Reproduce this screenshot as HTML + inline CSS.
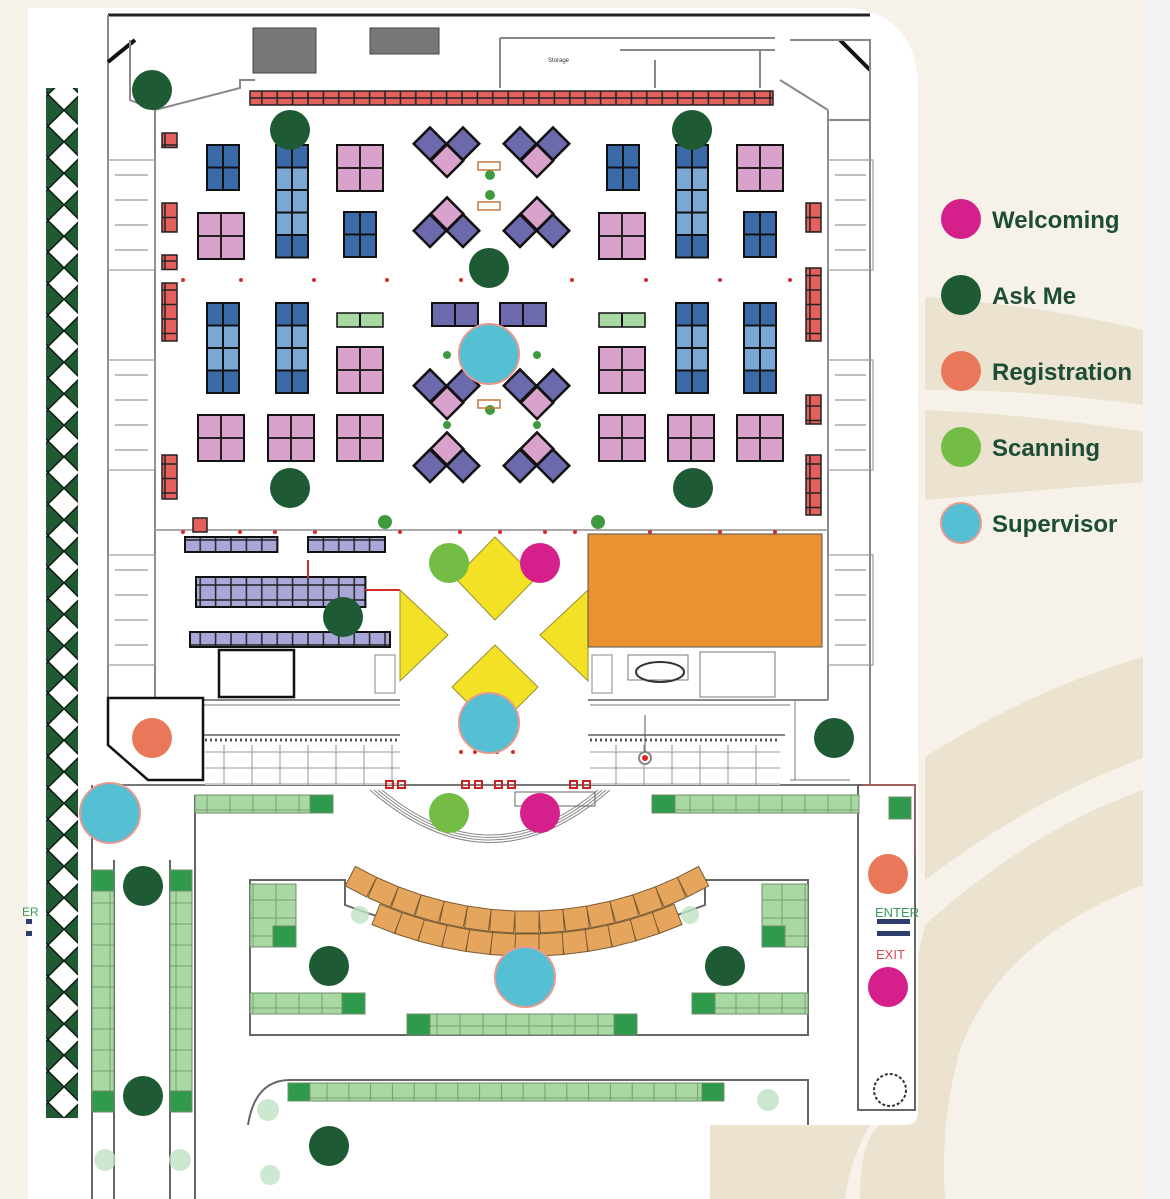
<!DOCTYPE html>
<html><head><meta charset="utf-8"><style>
html,body{margin:0;padding:0;background:#f6f2ea;}
svg{display:block}
</style></head><body>
<svg width="1170" height="1199" viewBox="0 0 1170 1199" xmlns="http://www.w3.org/2000/svg" font-family="Liberation Sans, sans-serif">
<defs>
<pattern id="dia" width="32" height="31.5" patternUnits="userSpaceOnUse"><polygon points="16,0 32,15.75 16,31.5 0,15.75" fill="#1f5a32" stroke="#0b1a10" stroke-width="1.5"/></pattern>
<pattern id="pb" width="16" height="22.5" patternUnits="userSpaceOnUse"><rect x="0" y="0" width="16" height="22.5" fill="#3b6aa8" stroke="#111" stroke-width="2"/></pattern>
<pattern id="plb" width="16" height="22.5" patternUnits="userSpaceOnUse"><rect x="0" y="0" width="16" height="22.5" fill="#7aa7d4" stroke="#111" stroke-width="2"/></pattern>
<pattern id="pp" width="23" height="23" patternUnits="userSpaceOnUse"><rect x="0" y="0" width="23" height="23" fill="#d8a2cc" stroke="#222" stroke-width="2"/></pattern>
<pattern id="pr" width="15.4" height="14" patternUnits="userSpaceOnUse"><rect x="0" y="0" width="15.4" height="14" fill="#e3605c" stroke="#222" stroke-width="1.5"/></pattern>
<pattern id="prv" width="15" height="14.5" patternUnits="userSpaceOnUse"><rect x="0" y="0" width="15" height="14.5" fill="#e3605c" stroke="#222" stroke-width="1.5"/></pattern>
<pattern id="pu" width="15.4" height="15" patternUnits="userSpaceOnUse"><rect x="0" y="0" width="15.4" height="15" fill="#a9a6d8" stroke="#222" stroke-width="1.5"/></pattern>
<pattern id="pg" width="23" height="18" patternUnits="userSpaceOnUse"><rect x="0" y="0" width="23" height="18" fill="#a9d9a2" stroke="#7b9a78" stroke-width="1"/></pattern>
<pattern id="pgv" width="22" height="21" patternUnits="userSpaceOnUse"><rect x="0" y="0" width="22" height="21" fill="#a9d9a2" stroke="#7b9a78" stroke-width="1"/></pattern>
<pattern id="pgb" width="21.8" height="18" patternUnits="userSpaceOnUse"><rect x="0" y="0" width="21.8" height="18" fill="#a9d9a2" stroke="#7b9a78" stroke-width="1"/></pattern>
<pattern id="tile" width="28" height="16" patternUnits="userSpaceOnUse"><rect width="28" height="16" fill="#fff" stroke="#999" stroke-width="1"/></pattern>
</defs>

<rect width="1170" height="1199" fill="#f6f2ea"/>
<rect x="1143" y="0" width="27" height="1199" fill="#f3f3f2"/>
<path d="M925,297 Q1040,305 1143,330 L1143,405 Q1040,390 925,390 Z" fill="#ebe2cf"/>
<path d="M925,410 Q1040,415 1143,432 L1143,482 Q1040,490 925,500 Z" fill="#ebe2cf"/>
<path d="M925,757 Q1030,690 1143,657 L1143,758 Q1030,800 925,880 Z" fill="#ebe2cf"/>
<path d="M925,925 Q1030,830 1143,790 L1143,885 Q1000,940 960,1050 Q940,1120 945,1199 L860,1199 Q860,1140 880,1125 Z" fill="#ebe2cf"/>
<path d="M700,1125 L870,1125 Q850,1160 845,1199 L700,1199 Z" fill="#ebe2cf"/>

<path d="M28,8 L850,8 Q918,15 918,90 L918,1112 Q918,1125 905,1125 L710,1125 L710,1199 L28,1199 Z" fill="#ffffff"/>

<g font-weight="bold" font-size="24" fill="#1d4d35">
<circle cx="961" cy="219" r="20" fill="#d51f8a"/><text x="992" y="228">Welcoming</text>
<circle cx="961" cy="295" r="20" fill="#1e5a33"/><text x="992" y="304">Ask Me</text>
<circle cx="961" cy="371" r="20" fill="#e9785a"/><text x="992" y="380">Registration</text>
<circle cx="961" cy="447" r="20" fill="#74bd44"/><text x="992" y="456">Scanning</text>
<circle cx="961" cy="523" r="20" fill="#55bfd4" stroke="#e69a8e" stroke-width="2"/><text x="992" y="532">Supervisor</text>
</g>

<rect x="46" y="88" width="32" height="1040" fill="url(#dia)"/>
<rect x="46" y="1118" width="32" height="20" fill="#fff"/>

<g fill="none" stroke="#888" stroke-width="2">
<path d="M108,15 L870,15" stroke="#222" stroke-width="3"/>
<path d="M108,15 L108,700 M870,40 L870,785"/>
<path d="M108,62 L135,40 M870,70 L840,40" stroke="#111" stroke-width="4"/>
<path d="M130,40 L130,100 L155,110 L240,88 L240,80 L255,80"/>
<path d="M155,110 L155,700 M828,110 L828,700"/>
<path d="M780,80 L828,110 M790,40 L870,40 L870,120 L828,120"/>
<path d="M500,38 L775,38 M500,38 L500,88 M620,50 L775,50 M655,60 L655,88 M760,50 L760,88"/>
<path d="M155,530 L828,530" stroke="#aaa"/>
<path d="M155,700 L400,700 M588,700 L828,700"/>
<path d="M100,785 L870,785" stroke="#777"/>
<path d="M200,735 L400,735 M588,735 L785,735"/>
</g>
<rect x="253" y="28" width="63" height="45" fill="#777" stroke="#444"/>
<rect x="370" y="28" width="69" height="26" fill="#777" stroke="#444"/>
<text x="548" y="62" font-size="6" fill="#333">Storage</text>
<g fill="none" stroke="#999" stroke-width="1.2">
<rect x="108" y="160" width="47" height="110"/><rect x="108" y="360" width="47" height="110"/><rect x="108" y="555" width="47" height="110"/>
<rect x="828" y="160" width="45" height="110"/><rect x="828" y="360" width="45" height="110"/><rect x="828" y="555" width="45" height="110"/>
<path d="M115,175 L148,175 M115,200 L148,200 M115,225 L148,225 M115,250 L148,250 M115,375 L148,375 M115,400 L148,400 M115,425 L148,425 M115,450 L148,450 M115,570 L148,570 M115,595 L148,595 M115,620 L148,620 M115,645 L148,645"/>
<path d="M835,175 L866,175 M835,200 L866,200 M835,225 L866,225 M835,250 L866,250 M835,375 L866,375 M835,400 L866,400 M835,425 L866,425 M835,450 L866,450 M835,570 L866,570 M835,595 L866,595 M835,620 L866,620 M835,645 L866,645"/>
</g>

<rect x="250" y="91" width="523" height="14" fill="url(#pr)" stroke="#222" stroke-width="1.5"/>
<g stroke="#222" stroke-width="1.5">
<rect x="162" y="133" width="15" height="14.5" fill="url(#prv)"/>
<rect x="162" y="203" width="15" height="29" fill="url(#prv)"/>
<rect x="162" y="255" width="15" height="14.5" fill="url(#prv)"/>
<rect x="162" y="283" width="15" height="58" fill="url(#prv)"/>
<rect x="162" y="455" width="15" height="44" fill="url(#prv)"/>
<rect x="193" y="518" width="14" height="14" fill="#e3605c"/>
<rect x="806" y="203" width="15" height="29" fill="url(#prv)"/>
<rect x="806" y="268" width="15" height="73" fill="url(#prv)"/>
<rect x="806" y="395" width="15" height="29" fill="url(#prv)"/>
<rect x="806" y="455" width="15" height="60" fill="url(#prv)"/>
</g>

<g stroke="#111" stroke-width="2">
<g transform="translate(207,145)"><rect width="32" height="45" fill="url(#pb)"/></g>
<g transform="translate(276,145)"><rect width="32" height="112.5" fill="url(#pb)"/><rect y="22.5" width="32" height="67.5" fill="url(#plb)"/></g>
<g transform="translate(337,145)"><rect width="46" height="46" fill="url(#pp)"/></g>
<g transform="translate(198,213)"><rect width="46" height="46" fill="url(#pp)"/></g>
<g transform="translate(344,212)"><rect width="32" height="45" fill="url(#pb)"/></g>
<g transform="translate(607,145)"><rect width="32" height="45" fill="url(#pb)"/></g>
<g transform="translate(676,145)"><rect width="32" height="112.5" fill="url(#pb)"/><rect y="22.5" width="32" height="67.5" fill="url(#plb)"/></g>
<g transform="translate(737,145)"><rect width="46" height="46" fill="url(#pp)"/></g>
<g transform="translate(599,213)"><rect width="46" height="46" fill="url(#pp)"/></g>
<g transform="translate(744,212)"><rect width="32" height="45" fill="url(#pb)"/></g>

<g transform="translate(207,303)"><rect width="32" height="90" fill="url(#pb)"/><rect y="22.5" width="32" height="45" fill="url(#plb)"/></g>
<g transform="translate(276,303)"><rect width="32" height="90" fill="url(#pb)"/><rect y="22.5" width="32" height="45" fill="url(#plb)"/></g>
<g transform="translate(676,303)"><rect width="32" height="90" fill="url(#pb)"/><rect y="22.5" width="32" height="45" fill="url(#plb)"/></g>
<g transform="translate(744,303)"><rect width="32" height="90" fill="url(#pb)"/><rect y="22.5" width="32" height="45" fill="url(#plb)"/></g>
<rect x="337" y="313" width="46" height="14" fill="#a9d9a2" stroke-width="1.5"/><line x1="360" y1="313" x2="360" y2="327"/>
<rect x="599" y="313" width="46" height="14" fill="#a9d9a2" stroke-width="1.5"/><line x1="622" y1="313" x2="622" y2="327"/>
<g transform="translate(337,347)"><rect width="46" height="46" fill="url(#pp)"/></g>
<g transform="translate(599,347)"><rect width="46" height="46" fill="url(#pp)"/></g>
<rect x="432" y="303" width="46" height="23" fill="#6c69ad"/><line x1="455" y1="303" x2="455" y2="326"/>
<rect x="500" y="303" width="46" height="23" fill="#6c69ad"/><line x1="523" y1="303" x2="523" y2="326"/>
<g transform="translate(198,415)"><rect width="46" height="46" fill="url(#pp)"/></g>
<g transform="translate(268,415)"><rect width="46" height="46" fill="url(#pp)"/></g>
<g transform="translate(337,415)"><rect width="46" height="46" fill="url(#pp)"/></g>
<g transform="translate(599,415)"><rect width="46" height="46" fill="url(#pp)"/></g>
<g transform="translate(668,415)"><rect width="46" height="46" fill="url(#pp)"/></g>
<g transform="translate(737,415)"><rect width="46" height="46" fill="url(#pp)"/></g>
</g>

<g stroke="#111" stroke-width="2.5">
<g><rect x="419" y="132" width="23" height="23" transform="rotate(45 430 143)" fill="#6c69ad"/><rect x="452" y="132" width="23" height="23" transform="rotate(45 463 143)" fill="#6c69ad"/><rect x="436" y="149" width="23" height="23" transform="rotate(45 447 160)" fill="#d8a2cc"/></g>
<g transform="translate(90,0)"><rect x="419" y="132" width="23" height="23" transform="rotate(45 430 143)" fill="#6c69ad"/><rect x="452" y="132" width="23" height="23" transform="rotate(45 463 143)" fill="#6c69ad"/><rect x="436" y="149" width="23" height="23" transform="rotate(45 447 160)" fill="#d8a2cc"/></g>
<g transform="translate(0,242)"><rect x="419" y="132" width="23" height="23" transform="rotate(45 430 143)" fill="#6c69ad"/><rect x="452" y="132" width="23" height="23" transform="rotate(45 463 143)" fill="#6c69ad"/><rect x="436" y="149" width="23" height="23" transform="rotate(45 447 160)" fill="#d8a2cc"/></g>
<g transform="translate(90,242)"><rect x="419" y="132" width="23" height="23" transform="rotate(45 430 143)" fill="#6c69ad"/><rect x="452" y="132" width="23" height="23" transform="rotate(45 463 143)" fill="#6c69ad"/><rect x="436" y="149" width="23" height="23" transform="rotate(45 447 160)" fill="#d8a2cc"/></g>
<g><rect x="436" y="202" width="23" height="23" transform="rotate(45 447 213)" fill="#d8a2cc"/><rect x="419" y="219" width="23" height="23" transform="rotate(45 430 230)" fill="#6c69ad"/><rect x="452" y="219" width="23" height="23" transform="rotate(45 463 230)" fill="#6c69ad"/></g>
<g transform="translate(90,0)"><rect x="436" y="202" width="23" height="23" transform="rotate(45 447 213)" fill="#d8a2cc"/><rect x="419" y="219" width="23" height="23" transform="rotate(45 430 230)" fill="#6c69ad"/><rect x="452" y="219" width="23" height="23" transform="rotate(45 463 230)" fill="#6c69ad"/></g>
<g transform="translate(0,235)"><rect x="436" y="202" width="23" height="23" transform="rotate(45 447 213)" fill="#d8a2cc"/><rect x="419" y="219" width="23" height="23" transform="rotate(45 430 230)" fill="#6c69ad"/><rect x="452" y="219" width="23" height="23" transform="rotate(45 463 230)" fill="#6c69ad"/></g>
<g transform="translate(90,235)"><rect x="436" y="202" width="23" height="23" transform="rotate(45 447 213)" fill="#d8a2cc"/><rect x="419" y="219" width="23" height="23" transform="rotate(45 430 230)" fill="#6c69ad"/><rect x="452" y="219" width="23" height="23" transform="rotate(45 463 230)" fill="#6c69ad"/></g>
</g>
<g fill="#3f9a3f"><circle cx="490" cy="175" r="5"/><circle cx="490" cy="195" r="5"/><circle cx="490" cy="410" r="5"/><circle cx="447" cy="355" r="4"/><circle cx="537" cy="355" r="4"/><circle cx="447" cy="425" r="4"/><circle cx="537" cy="425" r="4"/><circle cx="385" cy="522" r="7"/><circle cx="598" cy="522" r="7"/></g>
<g fill="none" stroke="#c07a3a" stroke-width="1.5"><rect x="478" y="162" width="22" height="8"/><rect x="478" y="202" width="22" height="8"/><rect x="478" y="400" width="22" height="8"/></g>
<g fill="#d42a2a"><circle cx="183" cy="280" r="2"/><circle cx="241" cy="280" r="2"/><circle cx="314" cy="280" r="2"/><circle cx="387" cy="280" r="2"/><circle cx="461" cy="280" r="2"/><circle cx="572" cy="280" r="2"/><circle cx="646" cy="280" r="2"/><circle cx="720" cy="280" r="2"/><circle cx="790" cy="280" r="2"/>
<circle cx="183" cy="532" r="2"/><circle cx="240" cy="532" r="2"/><circle cx="275" cy="532" r="2"/><circle cx="315" cy="532" r="2"/><circle cx="400" cy="532" r="2"/><circle cx="460" cy="532" r="2"/><circle cx="500" cy="532" r="2"/><circle cx="545" cy="532" r="2"/><circle cx="575" cy="532" r="2"/><circle cx="650" cy="532" r="2"/><circle cx="720" cy="532" r="2"/><circle cx="775" cy="532" r="2"/>
<circle cx="461" cy="752" r="2"/><circle cx="475" cy="752" r="2"/><circle cx="497" cy="752" r="2"/><circle cx="513" cy="752" r="2"/></g>

<g stroke="#111" stroke-width="2">
<rect x="185" y="537" width="92.4" height="15" fill="url(#pu)"/>
<rect x="308" y="537" width="77" height="15" fill="url(#pu)"/>
<rect x="196" y="577" width="169.4" height="30" fill="url(#pu)"/>
<rect x="190" y="632" width="200" height="15" fill="url(#pu)"/>
</g>
<path d="M308,560 L308,578 M365,590 L400,590" stroke="#d42a2a" stroke-width="2"/>
<rect x="219" y="650" width="75" height="47" fill="#fff" stroke="#111" stroke-width="2.5"/>
<rect x="375" y="655" width="20" height="38" fill="none" stroke="#888"/>
<rect x="592" y="655" width="20" height="38" fill="none" stroke="#888"/>
<g fill="none" stroke="#777" stroke-width="1"><rect x="628" y="655" width="60" height="25"/><rect x="700" y="652" width="75" height="45"/><path d="M590,705 L790,705 M200,705 L400,705 M795,700 L795,780 M790,780 L850,780"/></g>
<ellipse cx="660" cy="672" rx="24" ry="10" fill="none" stroke="#333" stroke-width="2"/>

<g fill="#f2e125" stroke="#9a9030" stroke-width="1">
<polygon points="495,537 536,578 495,620 455,578"/>
<polygon points="400,590 448,635 400,681"/>
<polygon points="588,590 540,635 588,681"/>
<polygon points="495,645 538,687 495,730 452,687"/>
</g>
<rect x="588" y="534" width="234" height="113" fill="#e9922f" stroke="#555" stroke-width="1"/>

<polygon points="108,698 203,698 203,780 148,780 108,745" fill="#fff" stroke="#111" stroke-width="2.5"/>

<rect x="205" y="745" width="195" height="40" fill="url(#tile)"/>
<rect x="590" y="745" width="190" height="40" fill="url(#tile)"/>
<path d="M205,740 L400,740 M590,740 L780,740" stroke="#555" stroke-width="3" stroke-dasharray="2,3"/>
<g fill="none" stroke="#c22" stroke-width="2"><rect x="386" y="781" width="7" height="7"/><rect x="398" y="781" width="7" height="7"/><rect x="462" y="781" width="7" height="7"/><rect x="475" y="781" width="7" height="7"/><rect x="495" y="781" width="7" height="7"/><rect x="508" y="781" width="7" height="7"/><rect x="570" y="781" width="7" height="7"/><rect x="583" y="781" width="7" height="7"/></g>
<circle cx="645" cy="758" r="6" fill="#fff" stroke="#888" stroke-width="2"/><circle cx="645" cy="758" r="3" fill="#d22"/>
<line x1="645" y1="715" x2="645" y2="752" stroke="#555"/>
<g fill="none" stroke="#888" stroke-width="1"><path d="M370,790 Q490,895 610,790"/><path d="M374,790 Q490,890 606,790"/><path d="M378,790 Q490,885 602,790"/><path d="M382,790 Q490,880 598,790"/></g>
<rect x="515" y="792" width="80" height="14" fill="none" stroke="#666"/>

<g fill="none" stroke="#666" stroke-width="2">
<path d="M195,795 L195,1199 M92,785 L92,1199 M170,860 L170,1199 M114,860 L114,1199"/>
<path d="M250,880 L345,880 L345,905 Q527,975 705,905 L705,880 L808,880 L808,1035 L250,1035 Z"/>
<path d="M248,1125 Q255,1080 290,1080 L808,1080 L808,1125"/>
<path d="M858,785 L915,785 L915,1110 L858,1110 Z"/>
</g>
<path d="M862,785 L915,785 L915,855" fill="none" stroke="#e05555" stroke-width="1"/>

<g stroke="#6d8f6a" stroke-width="1">
<rect x="195" y="795" width="138" height="18" fill="url(#pg)"/><rect x="310" y="795" width="23" height="18" fill="#2f9a4c"/>
<rect x="652" y="795" width="207" height="18" fill="url(#pg)"/><rect x="652" y="795" width="23" height="18" fill="#2f9a4c"/>
<rect x="250" y="884" width="46" height="63" fill="url(#pg)"/><rect x="273" y="926" width="23" height="21" fill="#2f9a4c"/>
<rect x="762" y="884" width="46" height="63" fill="url(#pg)"/><rect x="762" y="926" width="23" height="21" fill="#2f9a4c"/>
<rect x="250" y="993" width="115" height="21" fill="url(#pg)"/><rect x="342" y="993" width="23" height="21" fill="#2f9a4c"/>
<rect x="692" y="993" width="116" height="21" fill="url(#pg)"/><rect x="692" y="993" width="23" height="21" fill="#2f9a4c"/>
<rect x="407" y="1014" width="230" height="21" fill="url(#pg)"/><rect x="407" y="1014" width="23" height="21" fill="#2f9a4c"/><rect x="614" y="1014" width="23" height="21" fill="#2f9a4c"/>
<rect x="92" y="870" width="22" height="242" fill="url(#pgv)"/><rect x="92" y="870" width="22" height="21" fill="#2f9a4c"/><rect x="92" y="1091" width="22" height="21" fill="#2f9a4c"/>
<rect x="170" y="870" width="22" height="242" fill="url(#pgv)"/><rect x="170" y="870" width="22" height="21" fill="#2f9a4c"/><rect x="170" y="1091" width="22" height="21" fill="#2f9a4c"/>
<rect x="288" y="1083" width="436" height="18" fill="url(#pgb)"/><rect x="288" y="1083" width="21.8" height="18" fill="#2f9a4c"/><rect x="702" y="1083" width="21.8" height="18" fill="#2f9a4c"/>
<rect x="889" y="797" width="22" height="22" fill="#2f9a4c"/>
</g>

<g fill="#e5a55c" stroke="#7a5a30" stroke-width="1">
<rect x="515" y="911" width="24" height="22" transform="rotate(-27.3 527 560)"/>
<rect x="515" y="911" width="24" height="22" transform="rotate(-23.4 527 560)"/>
<rect x="515" y="911" width="24" height="22" transform="rotate(-19.5 527 560)"/>
<rect x="515" y="911" width="24" height="22" transform="rotate(-15.6 527 560)"/>
<rect x="515" y="911" width="24" height="22" transform="rotate(-11.7 527 560)"/>
<rect x="515" y="911" width="24" height="22" transform="rotate(-7.8 527 560)"/>
<rect x="515" y="911" width="24" height="22" transform="rotate(-3.9 527 560)"/>
<rect x="515" y="911" width="24" height="22" transform="rotate(0 527 560)"/>
<rect x="515" y="911" width="24" height="22" transform="rotate(3.9 527 560)"/>
<rect x="515" y="911" width="24" height="22" transform="rotate(7.8 527 560)"/>
<rect x="515" y="911" width="24" height="22" transform="rotate(11.7 527 560)"/>
<rect x="515" y="911" width="24" height="22" transform="rotate(15.6 527 560)"/>
<rect x="515" y="911" width="24" height="22" transform="rotate(19.5 527 560)"/>
<rect x="515" y="911" width="24" height="22" transform="rotate(23.4 527 560)"/>
<rect x="515" y="911" width="24" height="22" transform="rotate(27.3 527 560)"/>
<rect x="515" y="934" width="24" height="22" transform="rotate(-21.3 527 560)"/>
<rect x="515" y="934" width="24" height="22" transform="rotate(-17.75 527 560)"/>
<rect x="515" y="934" width="24" height="22" transform="rotate(-14.2 527 560)"/>
<rect x="515" y="934" width="24" height="22" transform="rotate(-10.65 527 560)"/>
<rect x="515" y="934" width="24" height="22" transform="rotate(-7.1 527 560)"/>
<rect x="515" y="934" width="24" height="22" transform="rotate(-3.55 527 560)"/>
<rect x="515" y="934" width="24" height="22" transform="rotate(0 527 560)"/>
<rect x="515" y="934" width="24" height="22" transform="rotate(3.55 527 560)"/>
<rect x="515" y="934" width="24" height="22" transform="rotate(7.1 527 560)"/>
<rect x="515" y="934" width="24" height="22" transform="rotate(10.65 527 560)"/>
<rect x="515" y="934" width="24" height="22" transform="rotate(14.2 527 560)"/>
<rect x="515" y="934" width="24" height="22" transform="rotate(17.75 527 560)"/>
<rect x="515" y="934" width="24" height="22" transform="rotate(21.3 527 560)"/>
</g>
<g fill="#bfe3c4" opacity="0.8"><circle cx="360" cy="915" r="9"/><circle cx="690" cy="915" r="9"/><circle cx="268" cy="1110" r="11"/><circle cx="768" cy="1100" r="11"/><circle cx="105" cy="1160" r="11"/><circle cx="180" cy="1160" r="11"/><circle cx="270" cy="1175" r="10"/></g>
<circle cx="890" cy="1090" r="16" fill="none" stroke="#333" stroke-width="2" stroke-dasharray="3,2"/>

<text x="875" y="917" font-size="13" fill="#3a9a5a">ENTER</text>
<rect x="877" y="919" width="33" height="5" fill="#2d3e6b"/>
<rect x="877" y="931" width="33" height="5" fill="#2d3e6b"/>
<text x="876" y="959" font-size="13" fill="#d8454b">EXIT</text>
<text x="22" y="916" font-size="12" fill="#3a9a5a">ER</text>
<rect x="26" y="919" width="6" height="5" fill="#2d3e6b"/><rect x="26" y="931" width="6" height="5" fill="#2d3e6b"/>

<g fill="#1e5a33">
<circle cx="152" cy="90" r="20"/><circle cx="290" cy="130" r="20"/><circle cx="692" cy="130" r="20"/><circle cx="489" cy="268" r="20"/>
<circle cx="290" cy="488" r="20"/><circle cx="693" cy="488" r="20"/><circle cx="343" cy="617" r="20"/><circle cx="834" cy="738" r="20"/>
<circle cx="143" cy="886" r="20"/><circle cx="143" cy="1096" r="20"/><circle cx="329" cy="966" r="20"/><circle cx="725" cy="966" r="20"/><circle cx="329" cy="1146" r="20"/>
</g>
<g fill="#55bfd4" stroke="#e69a8e" stroke-width="2">
<circle cx="489" cy="354" r="30"/><circle cx="489" cy="723" r="30"/><circle cx="110" cy="813" r="30"/><circle cx="525" cy="977" r="30"/>
</g>
<g fill="#e9785a"><circle cx="152" cy="738" r="20"/><circle cx="888" cy="874" r="20"/></g>
<g fill="#d51f8a"><circle cx="540" cy="563" r="20"/><circle cx="540" cy="813" r="20"/><circle cx="888" cy="987" r="20"/></g>
<g fill="#74bd44"><circle cx="449" cy="563" r="20"/><circle cx="449" cy="813" r="20"/></g>
</svg>
</body></html>
